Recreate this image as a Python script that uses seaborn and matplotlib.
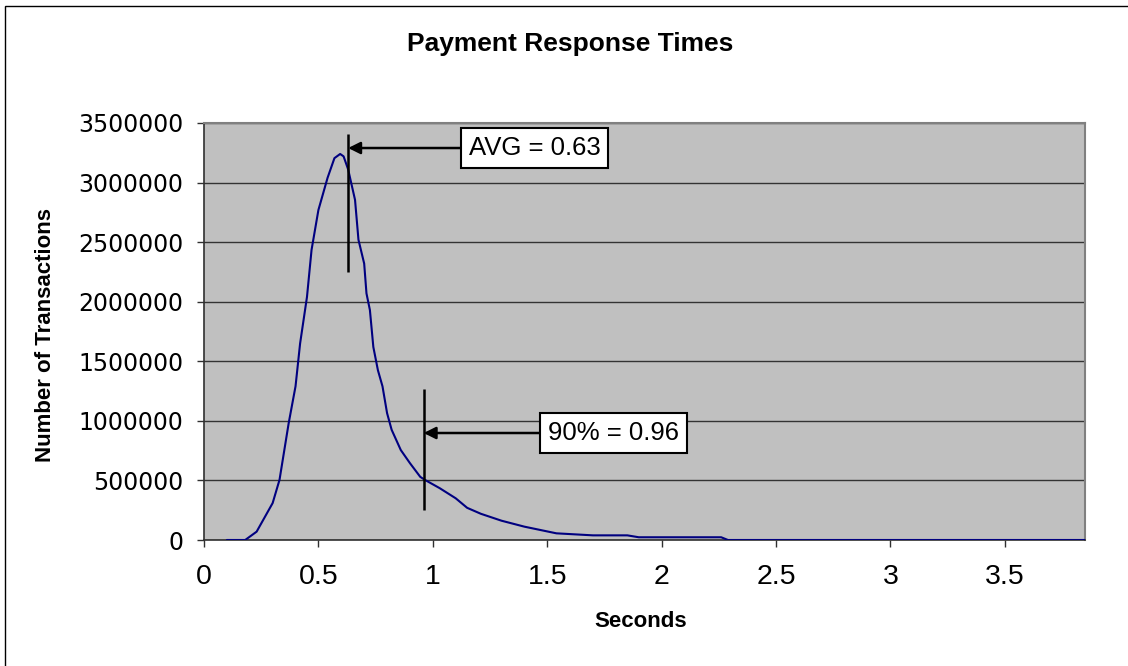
import matplotlib
matplotlib.use("Agg")
import matplotlib.pyplot as plt
from matplotlib.patches import Rectangle
from matplotlib.ticker import FixedLocator, FixedFormatter
import seaborn as sns
import pandas as pd

# Response-time distribution (seconds -> number of transactions)
seconds = [0.10, 0.18, 0.23, 0.30, 0.33, 0.37, 0.40, 0.42, 0.45, 0.47,
           0.50, 0.54, 0.57, 0.595, 0.61, 0.63, 0.66, 0.675, 0.70, 0.71,
           0.725, 0.74, 0.76, 0.78, 0.80, 0.82, 0.86, 0.90, 0.945, 0.965,
           1.03, 1.10, 1.15, 1.21, 1.30, 1.40, 1.54, 1.70, 1.85, 1.90,
           2.26, 2.29, 3.85]
transactions = [0, 0, 70000, 310000, 505000, 980000, 1290000, 1650000, 2040000, 2435000,
                2770000, 3040000, 3205000, 3240000, 3220000, 3110000, 2855000, 2520000, 2320000, 2070000,
                1930000, 1620000, 1425000, 1290000, 1065000, 925000, 755000, 645000, 530000, 505000,
                435000, 350000, 270000, 220000, 162000, 112000, 56000, 39000, 39000, 23000,
                23000, 0, 0]

avg_value = 0.63
p90_value = 0.96
avg_label = "AVG = 0.63"
p90_label = "90% = 0.96"

x_ticks = [0, 0.5, 1, 1.5, 2, 2.5, 3, 3.5]
x_tick_labels = ["0", "0.5", "1", "1.5", "2", "2.5", "3", "3.5"]
y_ticks = [0, 500000, 1000000, 1500000, 2000000, 2500000, 3000000, 3500000]
y_tick_labels = ["0", "500000", "1000000", "1500000", "2000000", "2500000", "3000000", "3500000"]

sns.set_style("white")
plt.rcParams["font.family"] = ["Liberation Sans", "DejaVu Sans"]
plt.rcParams["text.color"] = "black"
plt.rcParams["axes.labelcolor"] = "black"
plt.rcParams["xtick.color"] = "black"
plt.rcParams["ytick.color"] = "black"

df = pd.DataFrame({"Seconds": seconds, "Transactions": transactions})

fig = plt.figure(figsize=(11.28, 6.66), dpi=100)
fig.patch.set_facecolor("white")
ax = fig.add_axes([204 / 1128, 126 / 666, 881 / 1128, 417 / 666])
ax.set_facecolor("#C0C0C0")

# horizontal gridlines
ax.set_axisbelow(True)
ax.yaxis.grid(True, color="#333333", linewidth=1.0)
ax.xaxis.grid(False)

sns.lineplot(data=df, x="Seconds", y="Transactions", ax=ax,
             color="#000080", linewidth=1.5, zorder=3)

ax.set_xlim(0, 3.85)
ax.set_ylim(0, 3500000)

ax.xaxis.set_major_locator(FixedLocator(x_ticks))
ax.xaxis.set_major_formatter(FixedFormatter(x_tick_labels))
ax.yaxis.set_major_locator(FixedLocator(y_ticks))
ax.yaxis.set_major_formatter(FixedFormatter(y_tick_labels))

ax.tick_params(axis="y", which="major", direction="out", length=5, width=1,
               color="#303030", labelcolor="black", pad=10, left=True)
ax.tick_params(axis="x", which="major", direction="out", length=5, width=1,
               color="#303030", labelcolor="black", pad=12, bottom=True)
for lbl in ax.get_yticklabels():
    lbl.set_fontfamily("DejaVu Sans")
    lbl.set_fontsize(17)
for lbl in ax.get_xticklabels():
    lbl.set_fontfamily("Liberation Sans")
    lbl.set_fontsize(20.5)

for side in ("left", "bottom"):
    ax.spines[side].set_color("#303030")
    ax.spines[side].set_linewidth(1.2)
for side in ("top", "right"):
    ax.spines[side].set_color("#808080")
    ax.spines[side].set_linewidth(1.5)
    ax.spines[side].set_visible(True)

ax.set_xlabel("Seconds", fontsize=16, fontweight="bold", color="black")
ax.xaxis.set_label_coords(0.496, -0.170)
ax.set_ylabel("Number of Transactions", fontsize=16, fontweight="bold", color="black")
ax.yaxis.label.set_va("center")
ax.yaxis.set_label_coords(-0.180, 0.4916)

fig.text(570 / 1128, 1 - 51 / 666, "Payment Response Times",
         ha="center", va="baseline", fontsize=19, fontweight="bold", color="black")

# marker lines for the average and the 90th percentile
ax.vlines(avg_value, 2248000, 3409000, color="black", linewidth=1.8, zorder=4)
ax.vlines(p90_value, 252000, 1265000, color="black", linewidth=1.8, zorder=4)

box = dict(boxstyle="square,pad=0.3", facecolor="white", edgecolor="black", linewidth=1.5)
arrow = dict(arrowstyle="-|>", color="black", linewidth=1.8, mutation_scale=18,
             shrinkA=0, shrinkB=0)
ax.annotate(avg_label, xy=(avg_value, 3290000), xytext=(1.444, 3290000),
            ha="center", va="center", fontsize=18.5, color="black",
            bbox=box, arrowprops=arrow, zorder=5)
ax.annotate(p90_label, xy=(p90_value, 898000), xytext=(1.789, 898000),
            ha="center", va="center", fontsize=18.5, color="black",
            bbox=box, arrowprops=arrow, zorder=5)

# chart-area border
fig.patches.append(Rectangle((5 / 1128, -0.1), 1.2, 1.1 - 6 / 666, transform=fig.transFigure,
                             fill=False, edgecolor="black", linewidth=1.0))

fig.savefig("out.png", dpi=100)
